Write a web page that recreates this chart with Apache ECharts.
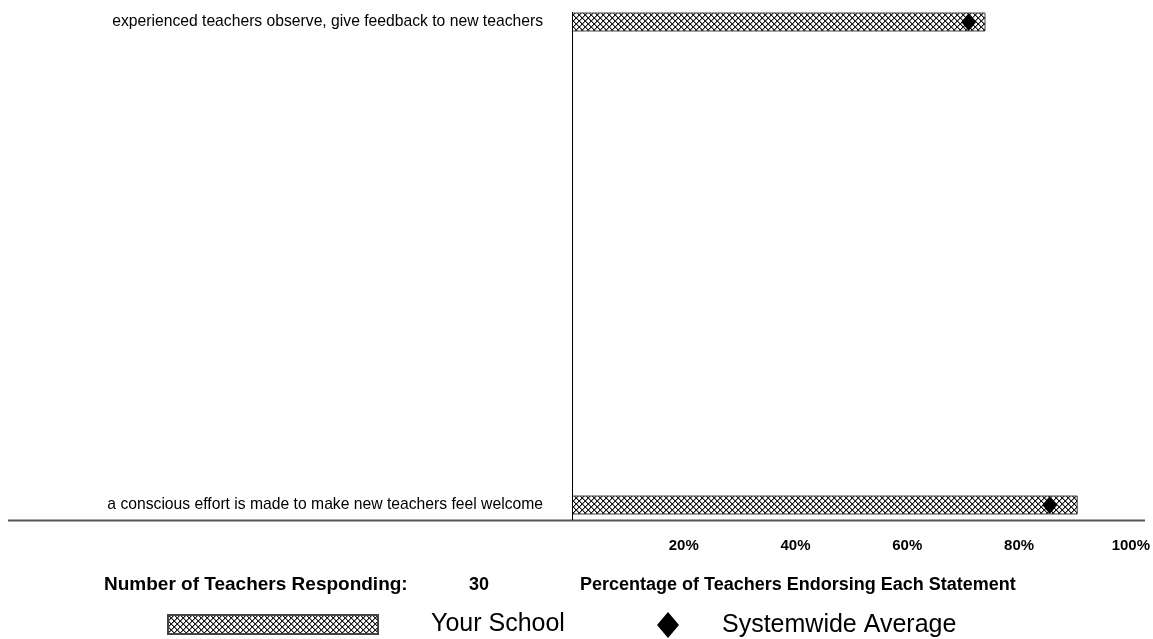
<!DOCTYPE html>
<html>
<head>
<meta charset="utf-8">
<script src="https://cdn.jsdelivr.net/npm/echarts@6/dist/echarts.min.js"></script>
<style>html,body{margin:0;padding:0;background:#fff;}#c{width:1153px;height:639px;}</style>
</head>
<body>
<div id="c"></div>
<script>
// Data
var categories = ['a conscious effort is made to make new teachers feel welcome',
                  'experienced teachers observe, give feedback to new teachers'];
var yourSchool = [90.5, 74];
var systemwide = [85.5, 71];
var tickValues = [20, 40, 60, 80, 100];
var respondents = 30;

// crosshatch pattern (diagonal X mesh)
var T = 6;
var tile = document.createElement('canvas');
tile.width = T; tile.height = T;
var tc = tile.getContext('2d');
tc.fillStyle = '#ffffff'; tc.fillRect(0, 0, T, T);
tc.fillStyle = '#1a1a1a';
for (var y = 0; y < T; y++) {
  for (var x = 0; x < T; x++) {
    var d1 = (x - y + T) % T, d2 = (x + y + 1) % T;
    if (d1 === 0 || d2 === 0) tc.fillRect(x, y, 1, 1);
  }
}
tc.fillStyle = 'rgba(30,30,30,0.45)';
for (var y2 = 0; y2 < T; y2++) {
  for (var x2 = 0; x2 < T; x2++) {
    var e1 = (x2 - y2 + T) % T, e2 = (x2 + y2 + 1) % T;
    if (e1 === 1 || e2 === 1) tc.fillRect(x2, y2, 1, 1);
  }
}
var hatch = { image: tile, repeat: 'repeat' };

var FONT = 'Liberation Sans, Arial, sans-serif';
var chart = echarts.init(document.getElementById('c'), null, { renderer: 'canvas' });
chart.setOption({
  animation: false,
  backgroundColor: '#fff',
  grid: { left: 572, right: 21, top: 22, bottom: 134, containLabel: false },
  xAxis: {
    type: 'value', min: 0, max: 100, interval: 20,
    axisLine: { show: false }, axisTick: { show: false }, splitLine: { show: false },
    axisLabel: {
      margin: 33, color: '#000', fontWeight: 'bold', fontSize: 15, fontFamily: FONT,
      formatter: function (v) { return tickValues.indexOf(v) >= 0 ? v + '%' : ''; }
    }
  },
  yAxis: {
    type: 'category', data: categories, boundaryGap: false,
    axisLine: { show: false }, axisTick: { show: false }, splitLine: { show: false },
    axisLabel: { margin: 29, color: '#000', fontSize: 15.7, fontFamily: FONT, padding: [0, 0, 3, 0] }
  },
  legend: [
    { data: [{ name: 'Your School', icon: 'rect' }], left: 167, top: 612, itemWidth: 210, itemHeight: 19, padding: 0,
      textStyle: { fontSize: 25, color: '#000', fontFamily: FONT, padding: [0, 0, 0, 48] } },
    { data: [{ name: 'Systemwide Average', icon: 'diamond' }], left: 657, top: 612, itemWidth: 22, itemHeight: 26, padding: 0,
      textStyle: { fontSize: 25, color: '#000', fontFamily: FONT, padding: [0, 0, 0, 38] } }
  ],
  graphic: [
    { type: 'line', shape: { x1: 8, y1: 520.5, x2: 1145, y2: 520.5 }, style: { stroke: '#555', lineWidth: 2 }, z: 10 },
    { type: 'line', shape: { x1: 572.5, y1: 12, x2: 572.5, y2: 520 }, style: { stroke: '#000', lineWidth: 1 }, z: 10 },
    { type: 'text', left: 104, top: 575, style: { text: 'Number of Teachers Responding:', fill: '#000', font: 'bold 19px ' + FONT } },
    { type: 'text', left: 469, top: 576, style: { text: String(respondents), fill: '#000', font: 'bold 18px ' + FONT } },
    { type: 'text', left: 580, top: 576, style: { text: 'Percentage of Teachers Endorsing Each Statement', fill: '#000', font: 'bold 18px ' + FONT } }
  ],
  series: [
    { name: 'Your School', type: 'bar', data: yourSchool, barWidth: 19,
      itemStyle: { color: hatch, borderColor: '#444', borderWidth: 1 } },
    { name: 'Systemwide Average', type: 'scatter', data: systemwide, symbol: 'diamond', symbolSize: [15, 18],
      itemStyle: { color: '#000', opacity: 1, borderWidth: 0 }, z: 10 }
  ]
});
</script>
</body>
</html>
